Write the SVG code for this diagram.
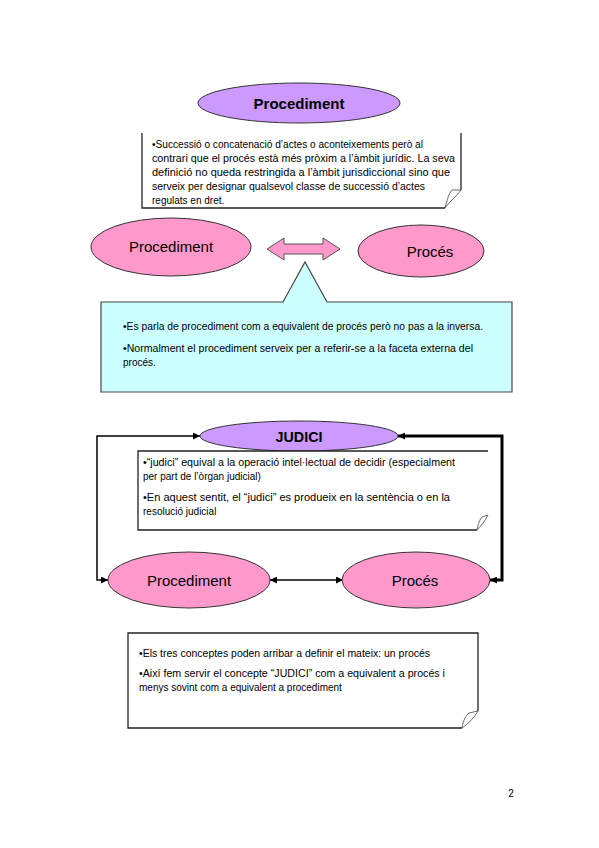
<svg xmlns="http://www.w3.org/2000/svg" width="599" height="848" viewBox="0 0 599 848">
<defs>
<style>
.purple{fill:#cc99ff;stroke:#333;stroke-width:1}
.pink{fill:#ff99cc;stroke:#333;stroke-width:1}
.lbl{font-family:"Liberation Sans",Arial,sans-serif;font-size:15px;fill:#000;text-anchor:middle}
.b{font-weight:bold}
.t{font-family:"Liberation Sans",Arial,sans-serif;font-size:10px;fill:#000}
.note{fill:#fff;stroke:none}
.edge{fill:none;stroke:#222;stroke-width:1.3}
.curl{fill:#fff;stroke:#444;stroke-width:0.8}
.conn{fill:none;stroke:#000}
</style>
<marker id="ah" viewBox="0 0 10 10" refX="10" refY="5" markerWidth="8" markerHeight="7" markerUnits="userSpaceOnUse" orient="auto-start-reverse">
<path d="M0,0 L10,5 L0,10 Z" fill="#000"/>
</marker>
</defs>
<rect width="599" height="848" fill="#fff"/>

<g id="connectors">
<path class="conn" stroke-width="1.5" d="M200,436 H97 V580 H108" marker-start="url(#ah)" marker-end="url(#ah)"/>
<path class="conn" stroke-width="3" d="M398,436 H502 V580 H490" marker-start="url(#ah)" marker-end="url(#ah)"/>
<path class="conn" stroke-width="1.5" d="M270,580 H343" marker-start="url(#ah)" marker-end="url(#ah)"/>
<polygon points="267,249 284,238 284,244 323,244 323,238 340,249 323,260 323,254 284,254 284,260" fill="#ff99cc" stroke="#555" stroke-width="1"/>
</g>

<g id="procediment-top">
<ellipse class="purple" cx="299" cy="103" rx="101" ry="20"/>
<text class="lbl b" x="299" y="109">Procediment</text>
</g>

<g id="note-top">
<path class="note" d="M142,133 H461 V190 L445,208 H142 Z"/>
<path class="edge" d="M142,133 V208 H445"/>
<path class="edge" d="M461,133 V190"/>
<path class="curl" d="M445,208 C447,200 449,193 452,190 L461,190 C457,196 450,201 445,208 Z"/>
<text class="t" x="152" y="148" textLength="271" lengthAdjust="spacingAndGlyphs">•Successió o concatenació d’actes o aconteixements però al</text>
<text class="t" x="152" y="162" textLength="303" lengthAdjust="spacingAndGlyphs">contrari que el procés està més pròxim a l’àmbit jurídic. La seva</text>
<text class="t" x="152" y="176" textLength="298" lengthAdjust="spacingAndGlyphs">definició no queda restringida a l’àmbit jurisdiccional sino que</text>
<text class="t" x="152" y="190" textLength="273" lengthAdjust="spacingAndGlyphs">serveix per designar qualsevol classe de successió d’actes</text>
<text class="t" x="152" y="204">regulats en dret.</text>
</g>

<g id="procediment-mid">
<ellipse class="pink" cx="171" cy="247" rx="80" ry="29"/>
<text class="lbl" x="171" y="252">Procediment</text>
</g>

<g id="proces-mid">
<ellipse class="pink" cx="421" cy="251" rx="63" ry="26"/>
<text class="lbl" x="430" y="257">Procés</text>
</g>

<g id="callout">
<path d="M101,302 H283 L305,262 L327,302 H512 V392 H101 Z" fill="#ccffff" stroke="#444" stroke-width="1.2"/>
<text class="t" x="123" y="330" textLength="360" lengthAdjust="spacingAndGlyphs">•Es parla de procediment com a equivalent de procés però no pas a la inversa.</text>
<text class="t" x="123" y="352" textLength="350" lengthAdjust="spacingAndGlyphs">•Normalment el procediment serveix per a referir-se a la faceta externa del</text>
<text class="t" x="123" y="366">procés.</text>
</g>

<g id="judici">
<ellipse class="purple" cx="299" cy="436" rx="99" ry="15"/>
<text class="lbl b" x="299" y="442" textLength="47" lengthAdjust="spacingAndGlyphs">JUDICI</text>
</g>

<g id="note-judici">
<path class="note" d="M138,451 H488 V515 L477,530 H138 Z"/>
<path class="edge" d="M488,451 H138 V530 H477"/>
<path class="curl" d="M477,530 C478,524 480,519 482,517 L488,515 C485,521 481,526 477,530 Z"/>
<text class="t" x="143" y="466" textLength="312" lengthAdjust="spacingAndGlyphs">•“judici” equival a la operació intel·lectual de decidir (especialment</text>
<text class="t" x="143" y="480">per part de l’òrgan judicial)</text>
<text class="t" x="143" y="501" textLength="307" lengthAdjust="spacingAndGlyphs">•En aquest sentit, el “judici” es produeix en la sentència o en la</text>
<text class="t" x="143" y="515">resolució judicial</text>
</g>

<g id="procediment-low">
<ellipse class="pink" cx="189" cy="580" rx="81" ry="28"/>
<text class="lbl" x="189" y="586">Procediment</text>
</g>

<g id="proces-low">
<ellipse class="pink" cx="416" cy="580" rx="74" ry="28"/>
<text class="lbl" x="415" y="586">Procés</text>
</g>

<g id="note-bottom">
<path class="note" d="M128,633 H478 V711 L462,728 H128 Z"/>
<path class="edge" d="M478,711 V633 H128 V728 H462"/>
<path class="curl" d="M462,728 C463,721 466,715 469,713 L478,711 C474,718 468,724 462,728 Z"/>
<text class="t" x="139" y="657" textLength="291" lengthAdjust="spacingAndGlyphs">•Els tres conceptes poden arribar a definir el mateix: un procés</text>
<text class="t" x="139" y="677" textLength="306" lengthAdjust="spacingAndGlyphs">•Així fem servir el concepte “JUDICI” com a equivalent a procés i</text>
<text class="t" x="139" y="691">menys sovint com a equivalent a procediment</text>
</g>

<text x="511" y="797" font-family="Liberation Sans, Arial, sans-serif" font-size="10" fill="#000" text-anchor="middle">2</text>
</svg>
